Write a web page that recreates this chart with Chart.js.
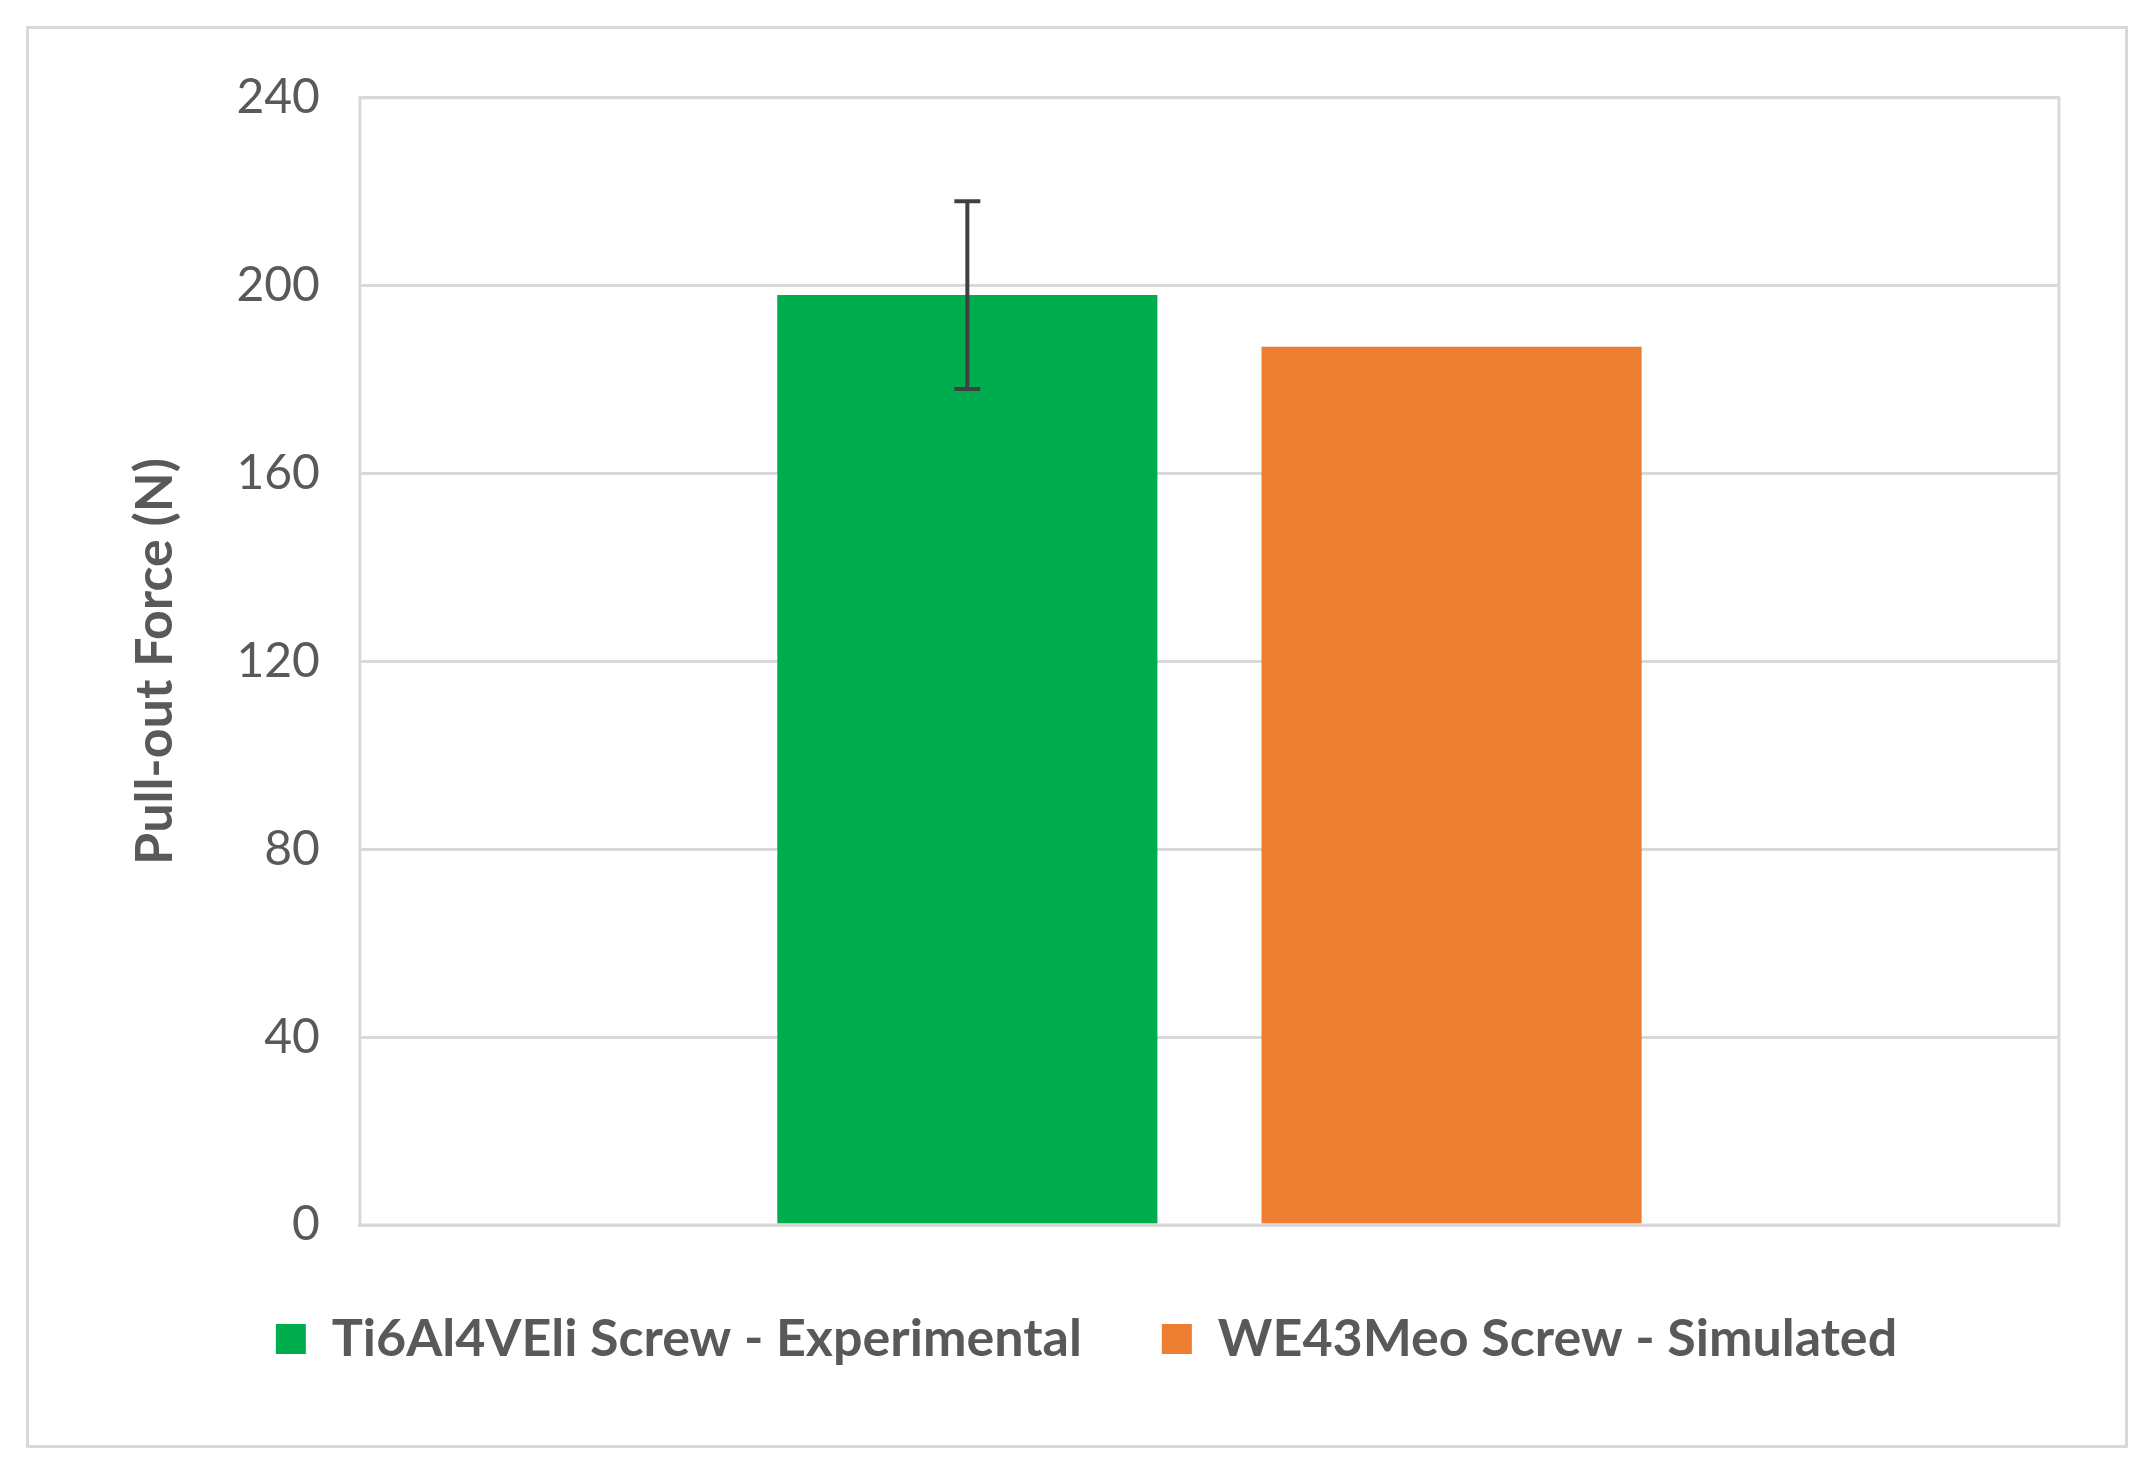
<!DOCTYPE html>
<html><head><meta charset="utf-8">
<script src="https://cdn.jsdelivr.net/npm/chart.js@4"></script>
<style>
html,body{margin:0;background:#fff;}
#box{position:absolute;left:26px;top:26px;width:2096px;height:1416px;border:3px solid #d9d9d9;}
canvas{display:block;}
</style></head><body>
<div id="box"><canvas id="c" width="2096" height="1416"></canvas></div>
<script>
const categories = [""];
const seriesNames = ["Ti6Al4VEli Screw - Experimental", "WE43Meo Screw - Simulated"];
const seriesValues = [[198], [187]];
const seriesErrors = [[20], [0]];
const seriesColors = ["#00ad4e", "#ed7d31"];
const yTicks = [0, 40, 80, 120, 160, 200, 240];

const errPlugin = {
  id: 'err',
  afterDatasetsDraw(chart) {
    const ctx = chart.ctx, y = chart.scales.y;
    chart.data.datasets.forEach((ds, i) => {
      const meta = chart.getDatasetMeta(i);
      meta.data.forEach((bar, j) => {
        const e = seriesErrors[i][j];
        if (!e) return;
        const v = ds.data[j];
        const t = y.getPixelForValue(v + e), b = y.getPixelForValue(v - e);
        ctx.save();
        ctx.strokeStyle = '#404040'; ctx.lineWidth = 4;
        ctx.beginPath();
        ctx.moveTo(bar.x, t); ctx.lineTo(bar.x, b);
        ctx.moveTo(bar.x - 13, t); ctx.lineTo(bar.x + 13, t);
        ctx.moveTo(bar.x - 13, b); ctx.lineTo(bar.x + 13, b);
        ctx.stroke(); ctx.restore();
      });
    });
  }
};

new Chart(document.getElementById('c'), {
  type: 'bar',
  data: {
    labels: categories,
    datasets: seriesNames.map((n, i) => ({
      label: n, data: seriesValues[i], backgroundColor: seriesColors[i],
      barPercentage: 0.785, categoryPercentage: 0.57
    }))
  },
  options: {
    responsive: false, animation: false,
    layout: { padding: { left: 85, right: 66, top: 66, bottom: 70 } },
    plugins: {
      legend: {
        position: 'bottom',
        labels: { color: '#595959', font: { family: 'Lato', size: 52, weight: 'bold' },
          boxWidth: 30, boxHeight: 30, padding: 80 }
      },
      tooltip: { enabled: false }
    },
    scales: {
      x: { grid: { display: false }, border: { color: '#d9d9d9', width: 3 }, ticks: { display: false } },
      y: {
        min: 0, max: 240,
        afterBuildTicks: ax => { ax.ticks = yTicks.map(v => ({ value: v })); },
        ticks: { color: '#595959', font: { family: 'Lato', size: 48 }, padding: 40 },
        grid: { color: '#d9d9d9', lineWidth: 3, drawTicks: false },
        border: { display: false },
        title: { display: true, text: 'Pull-out Force (N)', color: '#595959',
          font: { family: 'Lato', size: 52, weight: 'bold' }, padding: 10 }
      }
    }
  },
  plugins: [errPlugin, {
    id: 'frame',
    afterDraw(chart) {
      const a = chart.chartArea, ctx = chart.ctx;
      ctx.save(); ctx.strokeStyle = '#d9d9d9'; ctx.lineWidth = 3;
      ctx.strokeRect(a.left, a.top, a.right - a.left, a.bottom - a.top);
      ctx.restore();
    }
  }]
});
</script>
</body></html>
